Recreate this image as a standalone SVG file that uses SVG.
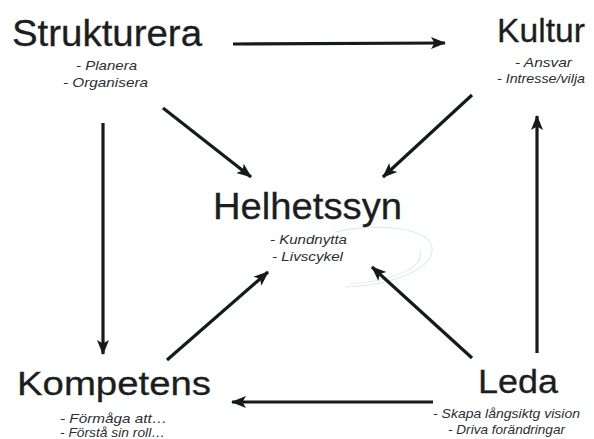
<svg xmlns="http://www.w3.org/2000/svg" width="594" height="439" viewBox="0 0 594 439">
<defs>
<marker id="ah" markerUnits="userSpaceOnUse" markerWidth="16" markerHeight="14" refX="14" refY="7" orient="auto">
<path d="M0,1 L15,7 L0,13 L3.5,7 z" fill="#151a1c"/>
</marker>
<style>
.t{font-family:"Liberation Sans",Arial,sans-serif;fill:#1b1e20;stroke:#1b1e20;stroke-width:0.3;}
.s{font-family:"Liberation Sans",Arial,sans-serif;font-style:italic;font-size:13.5px;fill:#2a2e33;}
.c{stroke:#151a1c;stroke-width:3.2;fill:none;marker-end:url(#ah);}
</style>
</defs>
<rect width="594" height="439" fill="#ffffff"/>
<path d="M335,232 C380,222 430,228 432,248 C434,268 395,285 345,287 M350,284 C400,280 425,265 420,250" fill="none" stroke="#dfeaef" stroke-width="1.1"/>
<g id="connectors">
<line class="c" x1="233" y1="44" x2="445" y2="43"/>
<line class="c" x1="163" y1="108" x2="251" y2="177"/>
<line class="c" x1="472" y1="95" x2="383" y2="177"/>
<line class="c" x1="537" y1="353" x2="537" y2="116"/>
<line class="c" x1="103" y1="123" x2="103" y2="354"/>
<line class="c" x1="167" y1="360" x2="268" y2="272"/>
<line class="c" x1="472" y1="358" x2="372" y2="267"/>
<line class="c" x1="433" y1="402" x2="232" y2="402"/>
</g>
<g id="strukturera">
<text class="t" x="12" y="46" font-size="36" textLength="190" lengthAdjust="spacingAndGlyphs">Strukturera</text>
<text class="s" x="76" y="70" textLength="61" lengthAdjust="spacingAndGlyphs">- Planera</text>
<text class="s" x="63" y="87" textLength="85" lengthAdjust="spacingAndGlyphs">- Organisera</text>
</g>
<g id="kultur">
<text class="t" x="497" y="42" font-size="34" textLength="88" lengthAdjust="spacingAndGlyphs">Kultur</text>
<text class="s" x="515" y="67" textLength="57" lengthAdjust="spacingAndGlyphs">- Ansvar</text>
<text class="s" x="497" y="83" textLength="88" lengthAdjust="spacingAndGlyphs">- Intresse/vilja</text>
</g>
<g id="helhetssyn">
<text class="t" x="213" y="219" font-size="36" textLength="189" lengthAdjust="spacingAndGlyphs">Helhetssyn</text>
<text class="s" x="270" y="244" textLength="77" lengthAdjust="spacingAndGlyphs">- Kundnytta</text>
<text class="s" x="272" y="261" textLength="71" lengthAdjust="spacingAndGlyphs">- Livscykel</text>
</g>
<g id="kompetens">
<text class="t" x="17" y="395" font-size="34" textLength="194" lengthAdjust="spacingAndGlyphs">Kompetens</text>
<text class="s" x="60" y="423" textLength="107" lengthAdjust="spacingAndGlyphs">- Förmåga att…</text>
<text class="s" x="60" y="437" textLength="105" lengthAdjust="spacingAndGlyphs">- Förstå sin roll…</text>
</g>
<g id="leda">
<text class="t" x="478" y="393" font-size="34" textLength="80" lengthAdjust="spacingAndGlyphs">Leda</text>
<text class="s" x="433" y="418" textLength="147" lengthAdjust="spacingAndGlyphs">- Skapa långsiktg vision</text>
<text class="s" x="448" y="434" textLength="117" lengthAdjust="spacingAndGlyphs">- Driva forändringar</text>
</g>
</svg>
